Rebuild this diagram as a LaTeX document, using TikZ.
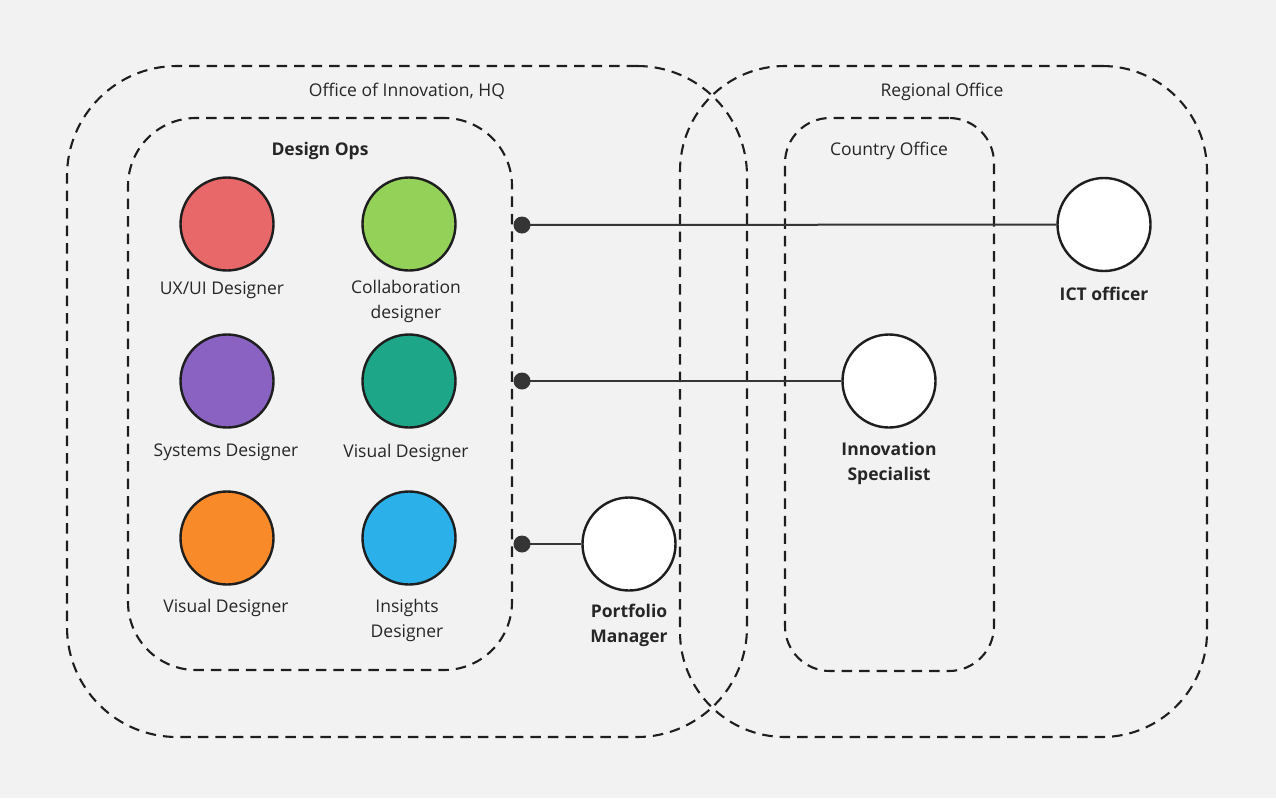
\documentclass[tikz,border=0pt]{standalone}
\usepackage{fontspec}
\setmainfont{Open Sans}
\definecolor{bg}{HTML}{F2F2F2}
\definecolor{ink}{HTML}{1E1E1E}
\definecolor{txt}{HTML}{262626}
\definecolor{cred}{HTML}{E8686A}
\definecolor{cgreen}{HTML}{93D158}
\definecolor{cpurple}{HTML}{8A63C2}
\definecolor{cteal}{HTML}{1DA688}
\definecolor{corange}{HTML}{F88A2A}
\definecolor{cblue}{HTML}{2CB0E9}
\begin{document}
\begin{tikzpicture}[x=1pt,y=-1pt,
  region/.style={draw=ink, line width=2.1pt, dash pattern=on 10.5pt off 7pt, inner sep=0pt, fill=none},
  person/.style={circle, draw=ink, line width=2.4pt, minimum size=93pt, inner sep=0pt},
  lbl/.style={text=txt, font=\fontsize{17.5}{25}\selectfont, align=center, inner sep=0pt},
  blbl/.style={lbl, font=\fontsize{17.5}{25}\selectfont\bfseries},
  dotnode/.style={circle, fill=ink!90, minimum size=17pt, inner sep=0pt},
  link/.style={draw=ink!90, line width=2pt}
]
\fill[bg] (0,0) rectangle (1276,798);
\useasboundingbox (0,0) rectangle (1276,798);

% containers
\node[region, rounded corners=110pt, minimum width=680pt, minimum height=671pt] (hq) at (407,401.5) {};
\node[region, rounded corners=105pt, minimum width=527pt, minimum height=671pt] (ro) at (943.5,401.5) {};
\node[region, rounded corners=68pt, minimum width=384pt, minimum height=552pt] (dops) at (320,394) {};
\node[region, rounded corners=45pt, minimum width=209pt, minimum height=553pt] (co) at (889.5,394.5) {};

% container titles
\node[lbl] (hqt) at (407,91.5) {Office of Innovation, HQ};
\node[lbl] (rot) at (942,91.5) {Regional Office};
\node[blbl] (dopst) at (320,150.5) {Design Ops};
\node[lbl] (cot) at (889,150.5) {Country Office};

% design ops people
\node[person, fill=cred] (ux) at (227,224) {};
\node[person, fill=cgreen] (collab) at (409,224) {};
\node[person, fill=cpurple] (sys) at (227,381) {};
\node[person, fill=cteal] (vis1) at (409,381) {};
\node[person, fill=corange] (vis2) at (227,538) {};
\node[person, fill=cblue] (ins) at (409,538) {};

\node[lbl] (uxl) at (222,290.5) {UX/UI Designer};
\node[lbl] (collabl) at (406,301.5) {Collaboration\\designer};
\node[lbl] (sysl) at (226,452.5) {Systems Designer};
\node[lbl] (vis1l) at (406,452.5) {Visual Designer};
\node[lbl] (vis2l) at (226,607.5) {Visual Designer};
\node[lbl] (insl) at (407,620) {Insights\\Designer};

% other people
\node[person, fill=white] (ict) at (1104,224.5) {};
\node[person, fill=white] (inn) at (889,381) {};
\node[person, fill=white] (pm) at (629,544) {};

\node[blbl] (ictl) at (1104,293.5) {ICT officer};
\node[blbl] (innl) at (889,463) {Innovation\\Specialist};
\node[blbl] (pml) at (629,625) {Portfolio\\Manager};

% connectors
\node[dotnode] (d1) at (522,225) {};
\node[dotnode] (d2) at (522,381) {};
\node[dotnode] (d3) at (522,544) {};
\draw[link] (d1.center) -- (ict);
\draw[link] (d2.center) -- (inn);
\draw[link] (d3.center) -- (pm);
\end{tikzpicture}
\end{document}
